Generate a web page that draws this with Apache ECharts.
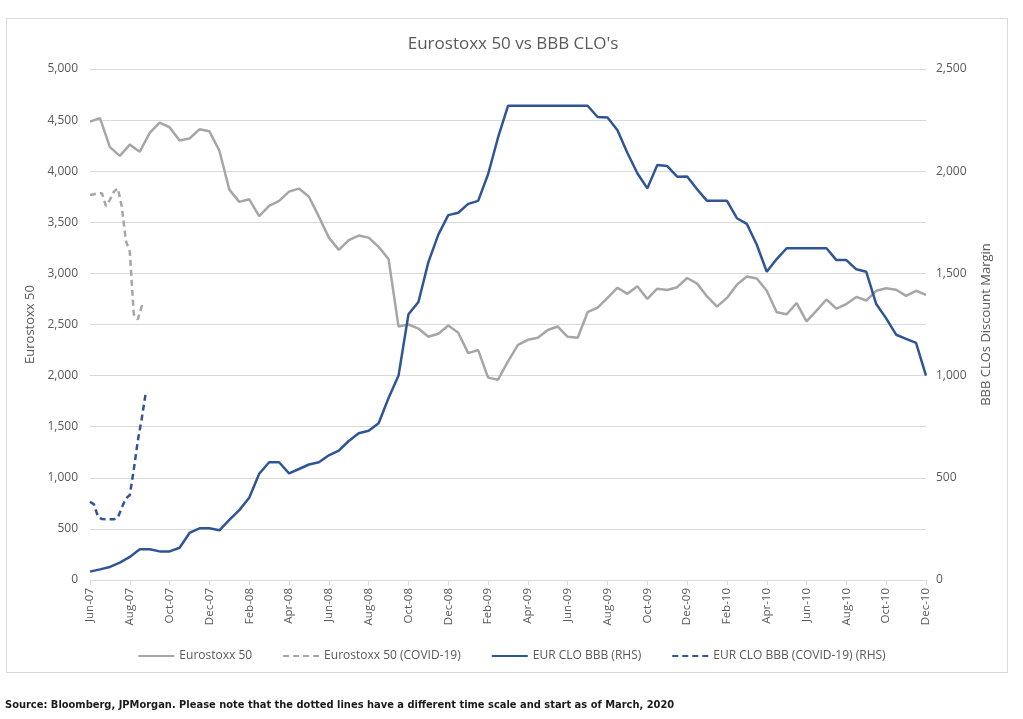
<!DOCTYPE html>
<html>
<head>
<meta charset="utf-8">
<script src="https://cdn.jsdelivr.net/npm/echarts@6/dist/echarts.min.js"></script>
<style>
html,body{margin:0;padding:0;background:#fff;}
#frame{position:absolute;left:6px;top:18px;width:1002px;height:655px;border:1px solid #d9d9d9;box-sizing:border-box;}
#chart{position:absolute;left:0;top:0;width:1023px;height:719px;}
</style>
</head>
<body>
<div id="frame"></div>
<div id="chart"></div>
<script>
// Tick labels along the x axis (every two months)
const monthLabels = ['Jun-07','Aug-07','Oct-07','Dec-07','Feb-08','Apr-08','Jun-08','Aug-08','Oct-08','Dec-08',
  'Feb-09','Apr-09','Jun-09','Aug-09','Oct-09','Dec-09','Feb-10','Apr-10','Jun-10','Aug-10','Oct-10','Dec-10'];
// Main series sampled every half month from Jun-07
const mainStep = 0.5;
const eurostoxx = [4485,4520,4235,4150,4260,4190,4375,4475,4430,4300,4320,4410,4390,4200,3820,3700,3725,3560,3660,3710,
  3800,3830,3750,3555,3350,3230,3325,3370,3350,3260,3140,2480,2500,2460,2380,2410,2490,2420,2220,2250,
  1980,1960,2140,2300,2350,2370,2446,2480,2380,2370,2620,2665,2760,2860,2800,2875,2750,2850,2838,2865,
  2955,2900,2775,2675,2760,2890,2970,2950,2830,2620,2600,2710,2530,2635,2745,2655,2700,2770,2735,2830,
  2855,2840,2780,2830,2790];
const cloBBB = [41,52,64,85,113,150,150,140,140,158,230,253,253,243,294,342,402,520,576,576,
  522,543,565,576,610,633,680,718,730,767,890,1000,1300,1360,1555,1690,1785,1797,1840,1855,
  1985,2165,2320,2320,2320,2320,2320,2320,2320,2320,2320,2265,2263,2200,2089,1990,1916,2030,2025,1973,
  1974,1912,1855,1855,1855,1770,1742,1640,1508,1570,1623,1623,1623,1623,1623,1565,1565,1520,1508,1350,
  1280,1200,1180,1160,1000];
// COVID-19 series (different time scale, from March 2020), drawn with a finer step
const covidStep = 0.2;
const eurostoxxCovid = [3767,3775,3784,3784,3660,3720,3800,3833,3650,3320,3213,2600,2550,2680,2675];
const cloBBBCovid = [383,370,310,298,297,297,297,305,355,398,416,540,680,790,915];

const names = ['Eurostoxx 50','Eurostoxx 50 (COVID-19)','EUR CLO BBB (RHS)','EUR CLO BBB (COVID-19) (RHS)'];
const grey = '#a6a6a6', blue = '#2f5597';
const toPairs = (arr, step) => arr.map((v, i) => [+(i * step).toFixed(3), v]);
const FONT = '"Open Sans", Lato, sans-serif';

const chart = echarts.init(document.getElementById('chart'), null, {renderer: 'canvas'});
chart.setOption({
  animation: false,
  title: {
    text: "Eurostoxx 50 vs BBB CLO's",
    left: 508, top: 31, textAlign: 'center',
    textStyle: {fontFamily: FONT, fontSize: 17, fontWeight: 'normal', color: '#595959'}
  },
  legend: {
    data: names,
    top: 645, left: 'center',
    itemWidth: 36, itemHeight: 10, itemGap: 30,
    itemStyle: {opacity: 0},
    textStyle: {fontFamily: FONT, fontSize: 12, color: '#595959'}
  },
  grid: {left: 90, right: 97, top: 69, bottom: 139, containLabel: false},
  xAxis: {
    type: 'value', min: 0, max: 42, interval: 2,
    axisLine: {show: true, lineStyle: {color: '#d9d9d9', width: 1}},
    axisTick: {show: true, length: 5, lineStyle: {color: '#d9d9d9'}},
    splitLine: {show: false},
    axisLabel: {
      rotate: 90, margin: 8, color: '#595959', fontFamily: FONT, fontSize: 11.5,
      formatter: v => monthLabels[Math.round(v / 2)] || ''
    }
  },
  yAxis: [{
    type: 'value', min: 0, max: 5000, interval: 500,
    name: 'Eurostoxx 50', nameLocation: 'middle', nameGap: 50, nameRotate: 90,
    nameTextStyle: {fontFamily: FONT, fontSize: 13, color: '#595959'},
    axisLine: {show: false}, axisTick: {show: false},
    splitLine: {lineStyle: {color: '#d9d9d9', width: 1}},
    axisLabel: {margin: 12, color: '#595959', fontFamily: FONT, fontSize: 12,
      formatter: v => v.toLocaleString('en-US')}
  }, {
    type: 'value', min: 0, max: 2500, interval: 500, position: 'right',
    name: 'BBB CLOs Discount Margin', nameLocation: 'middle', nameGap: 54, nameRotate: 90,
    nameTextStyle: {fontFamily: FONT, fontSize: 13, color: '#595959'},
    axisLine: {show: false}, axisTick: {show: false}, splitLine: {show: false},
    axisLabel: {margin: 10, color: '#595959', fontFamily: FONT, fontSize: 12,
      formatter: v => v.toLocaleString('en-US')}
  }],
  series: [
    {name: names[0], type: 'line', yAxisIndex: 0, data: toPairs(eurostoxx, mainStep), symbol: 'none',
      lineStyle: {color: grey, width: 2.5}, itemStyle: {color: grey}},
    {name: names[1], type: 'line', yAxisIndex: 0, data: toPairs(eurostoxxCovid, covidStep), symbol: 'none',
      lineStyle: {color: grey, width: 2.5, type: [6, 4]}, itemStyle: {color: grey}},
    {name: names[2], type: 'line', yAxisIndex: 1, data: toPairs(cloBBB, mainStep), symbol: 'none',
      lineStyle: {color: blue, width: 2.5}, itemStyle: {color: blue}},
    {name: names[3], type: 'line', yAxisIndex: 1, data: toPairs(cloBBBCovid, covidStep), symbol: 'none',
      lineStyle: {color: blue, width: 2.5, type: [6, 4]}, itemStyle: {color: blue}}
  ],
  graphic: [{
    type: 'text', left: 5, top: 700,
    style: {text: 'Source: Bloomberg, JPMorgan. Please note that the dotted lines have a different time scale and start as of March, 2020',
      fill: '#1a1a1a', font: 'bold 11px "DejaVu Sans Condensed", "Liberation Sans Narrow", sans-serif'}
  }]
});
</script>
</body>
</html>
